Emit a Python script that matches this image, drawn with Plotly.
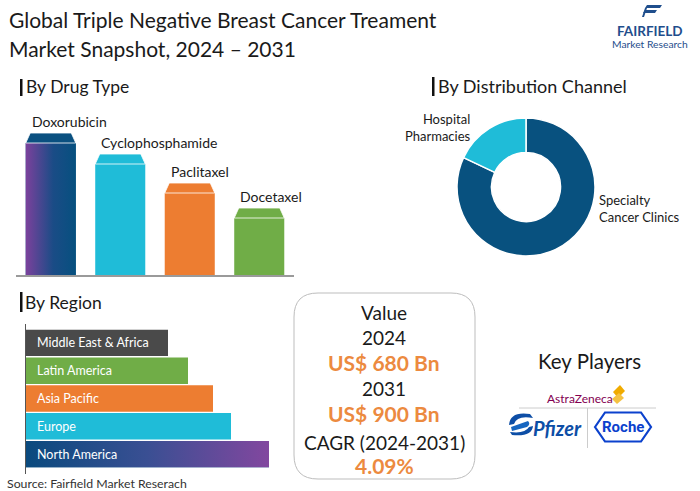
import plotly.graph_objects as go

W, H = 700, 491
def px(x): return x / W
def py(y): return 1 - y / H

FONT = "Lato"
BLACK = "#1a1a1a"
ORANGE = "#ec8a3f"

# ---------------- data ----------------
drug_types = ["Doxorubicin", "Cyclophosphamide", "Paclitaxel", "Docetaxel"]
drug_values = [132, 111, 82, 57]
drug_colors = ["#0a5080", "#1fbcd8", "#ed7d31", "#70ad47"]

channels = ["Specialty Cancer Clinics", "Hospital Pharmacies"]
channel_labels = ["Specialty<br>Cancer Clinics", "Hospital<br>Pharmacies"]
channel_values = [82, 18]
channel_colors = ["#08517f", "#1fbcd8"]

regions = ["North America", "Europe", "Asia Pacific", "Latin America", "Middle East & Africa"]
region_values = [243, 205, 187, 162, 142]
region_colors = ["#0a4f80", "#1fbcd8", "#ed7d31", "#70ad47", "#4a4a4a"]

value_lines = ["Value", "2024", "US$ 680 Bn", "2031", "US$ 900 Bn", "CAGR (2024-2031)", "4.09%"]
key_players = ["AstraZeneca", "Pfizer", "Roche"]

fig = go.Figure()

# ---------------- drug type bars ----------------
BW = 0.72
CAP = 10
INSET = 0.065
xs = list(range(len(drug_types)))
fig.add_trace(go.Bar(x=xs, y=drug_values, width=BW, marker=dict(color=drug_colors, line=dict(width=0)),
                     xaxis="x", yaxis="y", showlegend=False, hoverinfo="skip"))
# gradient on first bar
fig.add_trace(go.Scatter(x=[xs[0]-BW/2, xs[0]+BW/2, xs[0]+BW/2, xs[0]-BW/2, xs[0]-BW/2],
                         y=[0, 0, drug_values[0], drug_values[0], 0], fill="toself", mode="lines",
                         line=dict(width=0), fillgradient=dict(type="horizontal",
                         colorscale=[[0, "#7b419c"], [0.55, "#1a4c86"], [1, "#06507f"]]),
                         xaxis="x", yaxis="y", showlegend=False, hoverinfo="skip"))
for i, (v, c) in enumerate(zip(drug_values, drug_colors)):
    fig.add_trace(go.Scatter(x=[i-BW/2, i+BW/2, i+BW/2-INSET, i-BW/2+INSET, i-BW/2],
                             y=[v, v, v+CAP, v+CAP, v], fill="toself", mode="lines",
                             fillcolor=c, line=dict(color="rgba(255,255,255,0.8)", width=1),
                             xaxis="x", yaxis="y", showlegend=False, hoverinfo="skip"))
    fig.add_annotation(x=i-BW/2+0.06, y=v+CAP+12, xref="x", yref="y", text=drug_types[i],
                       showarrow=False, xanchor="left", yanchor="middle",
                       font=dict(family=FONT, size=14, color=BLACK))

# ---------------- region bars ----------------
ys = list(range(len(regions)))
fig.add_trace(go.Bar(x=region_values, y=ys, orientation="h", width=0.95,
                     marker=dict(color=region_colors, line=dict(width=0)),
                     xaxis="x2", yaxis="y2", showlegend=False, hoverinfo="skip"))
fig.add_trace(go.Scatter(x=[0, region_values[0], region_values[0], 0, 0],
                         y=[-0.475, -0.475, 0.475, 0.475, -0.475], fill="toself", mode="lines",
                         line=dict(width=0), fillgradient=dict(type="horizontal",
                         colorscale=[[0, "#0a4a7e"], [0.5, "#3a4f93"], [1, "#82479f"]]),
                         xaxis="x2", yaxis="y2", showlegend=False, hoverinfo="skip"))
for i, r in enumerate(regions):
    fig.add_annotation(x=9, y=i, xref="x2", yref="y2", text=r, showarrow=False,
                       xanchor="left", yanchor="middle",
                       font=dict(family=FONT, size=12.5, color="white"))

# ---------------- donut ----------------
fig.add_trace(go.Pie(labels=channels, values=channel_values, hole=0.5, sort=False,
                     direction="clockwise", rotation=0, textinfo="none",
                     marker=dict(colors=channel_colors, line=dict(color="white", width=1.5)),
                     domain=dict(x=[px(457), px(595)], y=[py(256), py(118)]),
                     showlegend=False, hoverinfo="label+percent"))
fig.add_annotation(x=px(473), y=py(127), xref="paper", yref="paper", text=channel_labels[1],
                   showarrow=False, xanchor="right", yanchor="middle", align="right",
                   font=dict(family=FONT, size=13, color=BLACK))
fig.add_annotation(x=px(597), y=py(208), xref="paper", yref="paper", text=channel_labels[0],
                   showarrow=False, xanchor="left", yanchor="middle", align="left",
                   font=dict(family=FONT, size=13, color=BLACK))

# ---------------- titles / headings ----------------
def ptext(x, y, t, size, color=BLACK, xanchor="left", family=FONT, **kw):
    fig.add_annotation(x=px(x), y=py(y), xref="paper", yref="paper", text=t, showarrow=False,
                       xanchor=xanchor, yanchor="middle", font=dict(family=family, size=size, color=color), **kw)

ptext(7, 20, "Global Triple Negative Breast Cancer Treament", 21)
ptext(7, 48, "Market Snapshot, 2024 – 2031", 21)
ptext(24, 86, "By Drug Type", 17.5)
ptext(436, 86, "By Distribution Channel", 18)
ptext(23, 302, "By Region", 17.5)
ptext(5, 483, "Source: Fairfield Market Reserach", 12.3, color="#333333")

shapes = []
for (x0, y0, y1) in [(20, 79, 96), (432, 77, 96), (20, 292, 312)]:
    shapes.append(dict(type="rect", xref="paper", yref="paper", x0=px(x0), x1=px(x0+2.5),
                       y0=py(y1), y1=py(y0), fillcolor="#111", line=dict(width=0)))
# region axis line
shapes.append(dict(type="line", xref="paper", yref="paper", x0=px(25.5), x1=px(25.5),
                   y0=py(474), y1=py(324), line=dict(color="#555", width=1)))

# ---------------- value box ----------------
def rounded(x0, y0, x1, y1, r):
    pts = (f"M {px(x0+r)},{py(y0)} L {px(x1-r)},{py(y0)} Q {px(x1)},{py(y0)} {px(x1)},{py(y0+r)} "
           f"L {px(x1)},{py(y1-r)} Q {px(x1)},{py(y1)} {px(x1-r)},{py(y1)} "
           f"L {px(x0+r)},{py(y1)} Q {px(x0)},{py(y1)} {px(x0)},{py(y1-r)} "
           f"L {px(x0)},{py(y0+r)} Q {px(x0)},{py(y0)} {px(x0+r)},{py(y0)} Z")
    return pts
shapes.append(dict(type="path", xref="paper", yref="paper", path=rounded(294, 293, 475, 479, 24),
                   line=dict(color="#bdbdbd", width=1), fillcolor="rgba(0,0,0,0)"))
vy = [312, 337, 362, 388, 413, 442, 465]
for t, y in zip(value_lines, vy):
    is_num = t.startswith("US$") or t.endswith("%")
    ptext(384, y, f"<b>{t}</b>" if is_num else t, 21 if is_num else 19,
          color=ORANGE if is_num else BLACK, xanchor="center")

# ---------------- key players ----------------
ptext(589, 361, "Key Players", 20.5, xanchor="center")
ptext(580, 398, key_players[0], 12, color="#830051", xanchor="center")
# astra zeneca symbol
shapes.append(dict(type="path", xref="paper", yref="paper",
                   path=f"M {px(613)},{py(392)} L {px(620)},{py(385)} L {px(625)},{py(391)} L {px(618)},{py(398)} Z",
                   fillcolor="#f0ab00", line=dict(width=0)))
shapes.append(dict(type="path", xref="paper", yref="paper",
                   path=f"M {px(612)},{py(399)} L {px(619)},{py(393)} L {px(624)},{py(398)} L {px(617)},{py(404)} Z",
                   fillcolor="#f5c242", line=dict(width=0)))
shapes.append(dict(type="line", xref="paper", yref="paper", x0=px(519), x1=px(656), y0=py(408), y1=py(408),
                   line=dict(color="#cccccc", width=1)))
shapes.append(dict(type="line", xref="paper", yref="paper", x0=px(587.5), x1=px(587.5), y0=py(408), y1=py(448),
                   line=dict(color="#cccccc", width=1)))
# pfizer
ptext(557, 428, "<b><i>" + key_players[1] + "</i></b>", 20, color="#0d4ea6", xanchor="center")
shapes.append(dict(type="path", xref="paper", yref="paper",
                   path=(f"M {px(509)},{py(425)} Q {px(510)},{py(411)} {px(530)},{py(414)} L {px(533)},{py(418)} "
                         f"Q {px(517)},{py(415)} {px(514)},{py(424)} Z"),
                   fillcolor="#0d4ea6", line=dict(width=0)))
shapes.append(dict(type="path", xref="paper", yref="paper",
                   path=(f"M {px(511)},{py(427)} L {px(528)},{py(421)} Q {px(531)},{py(424)} {px(527)},{py(427)} L {px(512)},{py(431)} Z"),
                   fillcolor="#1565c0", line=dict(width=0)))
shapes.append(dict(type="path", xref="paper", yref="paper",
                   path=(f"M {px(533)},{py(426)} Q {px(532)},{py(437)} {px(512)},{py(435)} L {px(510)},{py(432)} "
                         f"Q {px(525)},{py(434)} {px(529)},{py(427)} Z"),
                   fillcolor="#0d4ea6", line=dict(width=0)))
# roche hexagon
hexp = (f"M {px(595)},{py(427)} L {px(605)},{py(412.5)} L {px(641)},{py(412.5)} L {px(651)},{py(427)} "
        f"L {px(641)},{py(441.5)} L {px(605)},{py(441.5)} Z")
shapes.append(dict(type="path", xref="paper", yref="paper", path=hexp,
                   line=dict(color="#0b41cd", width=2.2), fillcolor="rgba(0,0,0,0)"))
ptext(623, 427, "<b>" + key_players[2] + "</b>", 15, color="#0b41cd", xanchor="center",
      family="Liberation Sans Narrow, Roboto")

# ---------------- fairfield logo ----------------
for path in [
    f"M {px(647)},{py(5)} L {px(662)},{py(5)} L {px(660)},{py(8)} L {px(645)},{py(8)} Z",
    f"M {px(645)},{py(10)} L {px(657)},{py(10)} L {px(655)},{py(13)} L {px(643)},{py(13)} Z",
    f"M {px(645)},{py(8)} L {px(647)},{py(8)} L {px(644)},{py(17)} L {px(642)},{py(17)} Z",
]:
    shapes.append(dict(type="path", xref="paper", yref="paper", path=path, fillcolor="#1f4e8c", line=dict(width=0)))
ptext(650, 30.5, "<b>FAIRFIELD</b>", 13.5, color="#1f4e8c", xanchor="center")
ptext(650, 44, "Market Research", 10.3, color="#1f4e8c", xanchor="center")

fig.update_layout(
    width=W, height=H, autosize=False, margin=dict(l=0, r=0, t=0, b=0),
    paper_bgcolor="white", plot_bgcolor="white", shapes=shapes,
    xaxis=dict(domain=[px(16), px(294)], range=[-0.5, 3.5], showline=True, linecolor="#9a9a9a",
               linewidth=2, showticklabels=False, ticks="", showgrid=False, zeroline=False, fixedrange=True),
    yaxis=dict(domain=[py(275), py(110)], range=[0, 165], visible=False, fixedrange=True),
    xaxis2=dict(domain=[px(26), px(286)], range=[0, 260], visible=False, anchor="y2", fixedrange=True),
    yaxis2=dict(domain=[py(468), py(329)], range=[-0.5, 4.5], visible=False, anchor="x2", fixedrange=True),
    bargap=0.05,
)

fig.write_html("out.html", config={"displayModeBar": False},
               post_script="document.body.style.margin='0';document.body.style.overflow='hidden';")
